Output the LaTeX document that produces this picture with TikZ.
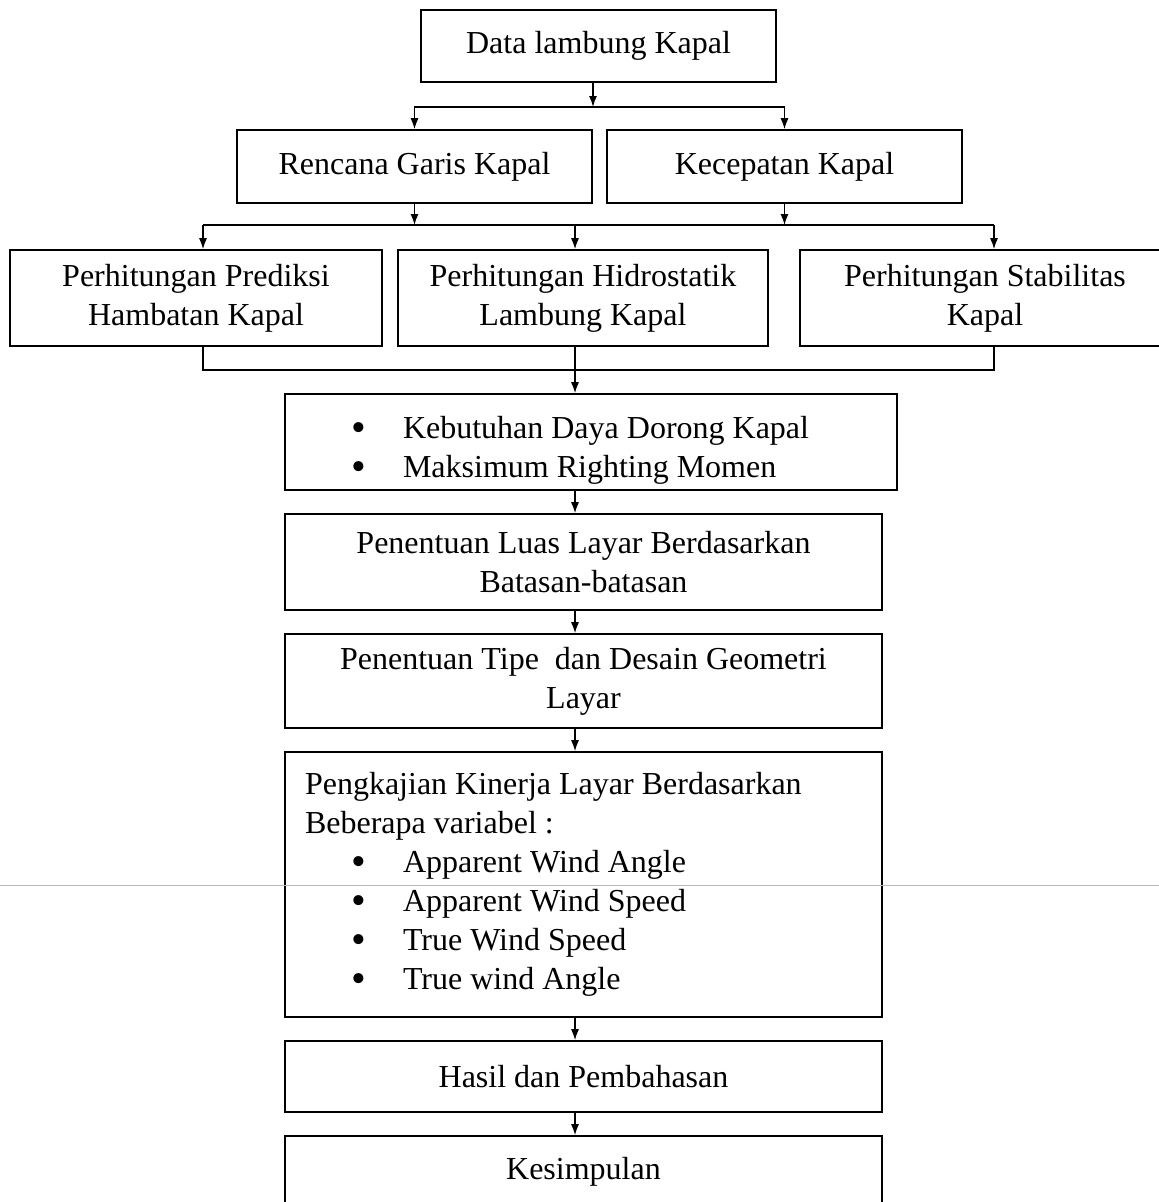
\documentclass[tikz,border=0pt]{standalone}
\usepackage{fontspec}
\setmainfont{Liberation Serif}
\usetikzlibrary{arrows.meta}

\tikzset{
  kotak/.style={draw, line width=1.7pt, inner xsep=20pt, inner ysep=0pt, align=center,
    font=\fontsize{32}{39}\selectfont},
  panah/.style={line width=1.3pt, -{Latex[length=11pt,width=8pt]}},
  garis/.style={line width=1.3pt},
}
\newcommand{\butir}[1]{\hspace*{46pt}\makebox[52pt][l]{\raisebox{-3pt}{\fontsize{42}{39}\selectfont\textbullet}}#1}

\begin{document}
\begin{tikzpicture}[x=1pt, y=-1pt]
  \useasboundingbox (0,0) rectangle (1159,1202);

  % Data awal
  \node[kotak, minimum width=355pt, minimum height=72pt] (data) at (598.5,46) {Data lambung Kapal};

  \node[kotak, minimum width=355pt, minimum height=73pt] (rencana) at (414.5,166.5) {Rencana Garis Kapal};
  \node[kotak, minimum width=355pt, minimum height=73pt] (kecepatan) at (784.5,166.5) {Kecepatan Kapal};

  % Perhitungan
  \node[kotak, minimum width=372pt, minimum height=96pt] (prediksi) at (196,298) {Perhitungan Prediksi\\Hambatan Kapal};
  \node[kotak, minimum width=370pt, minimum height=96pt] (hidro) at (583,298) {Perhitungan Hidrostatik\\Lambung Kapal};
  \node[kotak, minimum width=370pt, minimum height=96pt] (stabil) at (985,298) {Perhitungan Stabilitas\\Kapal};

  % Layar
  \node[kotak, text width=572pt, align=flush left, minimum height=96pt] (kebutuhan) at (591,442)
    {\rule{0pt}{38pt}\butir{Kebutuhan Daya Dorong Kapal}\\\butir{Maksimum Righting Momen}};
  \node[kotak, minimum width=597pt, minimum height=96pt] (luas) at (583.5,562) {Penentuan Luas Layar Berdasarkan\\Batasan-batasan};
  \node[kotak, minimum width=597pt, minimum height=94pt] (tipe) at (583.5,681) {Penentuan Tipe\ \ dan Desain Geometri\\Layar};
  \node[kotak, text width=557pt, align=flush left, minimum height=265pt] (kinerja) at (583.5,884.5)
    {Pengkajian Kinerja Layar Berdasarkan\\Beberapa variabel :\\
     \butir{Apparent Wind Angle}\\\butir{Apparent Wind Speed}\\
     \butir{True Wind Speed}\\\butir{True wind Angle}};
  \node[kotak, minimum width=597pt, minimum height=71pt] (hasil) at (583.5,1076.5) {Hasil dan Pembahasan};
  \node[kotak, minimum width=597pt, minimum height=71pt] (kesimpulan) at (583.5,1171.5) {Kesimpulan};

  % Percabangan
  \coordinate (t1) at (593,107);
  \coordinate (h1) at (203,225);
  \coordinate (h2) at (575,225);
  \coordinate (h3) at (994,225);
  \coordinate (g1) at (203,370);
  \coordinate (g3) at (994,370);

  \draw[panah] (data.south -| t1) -- (t1);
  \draw[panah] (t1) -| (rencana.north);
  \draw[panah] (t1) -| (kecepatan.north);

  \draw[panah] (rencana.south) -- (rencana.south |- h1);
  \draw[panah] (kecepatan.south) -- (kecepatan.south |- h1);
  \draw[garis] (h1) -- (h3);
  \draw[panah] (h1) -- (h1 |- prediksi.north);
  \draw[panah] (h2) -- (h2 |- hidro.north);
  \draw[panah] (h3) -- (h3 |- stabil.north);

  \draw[garis] (g1 |- prediksi.south) -- (g1) -- (g3) -- (g3 |- stabil.south);
  \draw[panah] (h2 |- hidro.south) -- (h2 |- kebutuhan.north);

  % Alur utama
  \draw[panah] (h2 |- kebutuhan.south) -- (h2 |- luas.north);
  \draw[panah] (h2 |- luas.south) -- (h2 |- tipe.north);
  \draw[panah] (h2 |- tipe.south) -- (h2 |- kinerja.north);
  \draw[panah] (h2 |- kinerja.south) -- (h2 |- hasil.north);
  \draw[panah] (h2 |- hasil.south) -- (h2 |- kesimpulan.north);

  % garis lipatan
  \draw[gray!55, line width=1pt] (0,885) -- (1159,885);
\end{tikzpicture}
\end{document}
